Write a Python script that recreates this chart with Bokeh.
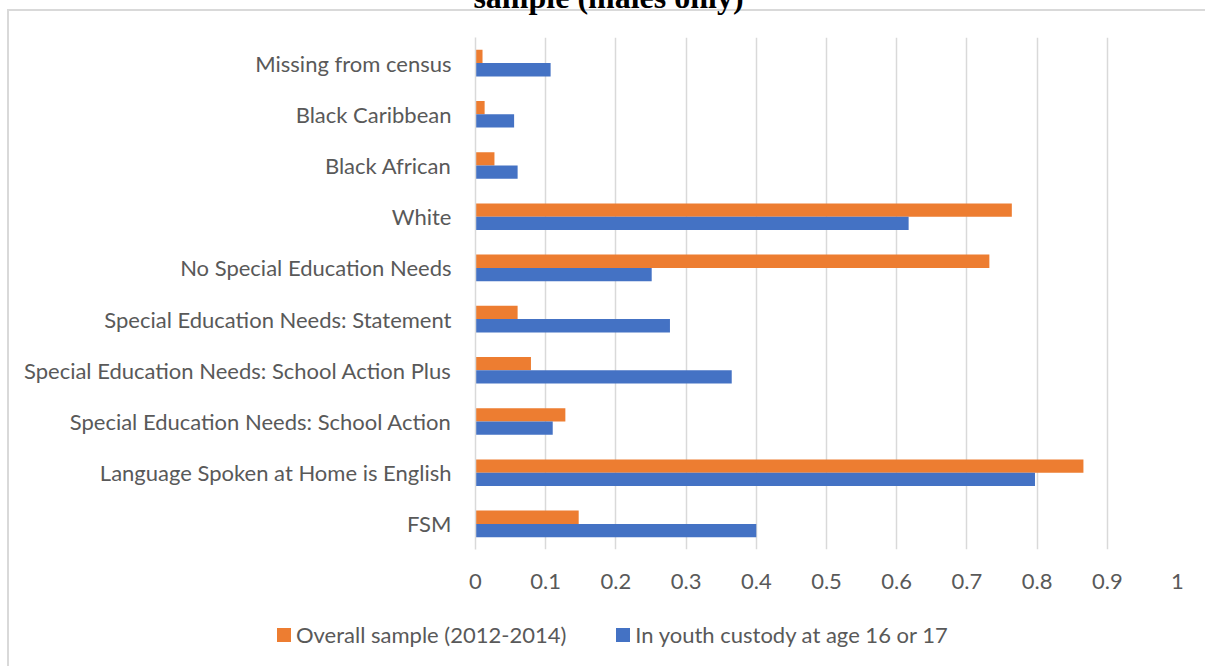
from bokeh.plotting import figure
from bokeh.layouts import column
from bokeh.models import (FactorRange, Range1d, Label, FixedTicker,
                          ColumnDataSource, Div)
from bokeh.transform import dodge
from bokeh.embed import file_html
from bokeh.resources import INLINE

# Categories listed bottom to top
categories = [
    "FSM",
    "Language Spoken at Home is English",
    "Special Education Needs: School Action",
    "Special Education Needs: School Action Plus",
    "Special Education Needs: Statement",
    "No Special Education Needs",
    "White",
    "Black African",
    "Black Caribbean",
    "Missing from census",
]
overall_sample = [0.147, 0.866, 0.128, 0.079, 0.060, 0.732, 0.764, 0.027, 0.013, 0.010]
youth_custody = [0.400, 0.797, 0.110, 0.365, 0.277, 0.251, 0.617, 0.060, 0.055, 0.107]

series_names = ["Overall sample (2012-2014)", "In youth custody at age 16 or 17"]
tick_values = [0, 0.1, 0.2, 0.3, 0.4, 0.5, 0.6, 0.7, 0.8, 0.9, 1]
tick_labels = ["0", "0.1", "0.2", "0.3", "0.4", "0.5", "0.6", "0.7", "0.8", "0.9", "1"]
title_text = "sample (males only)"

ORANGE = "#ED7D31"
BLUE = "#4472C4"
TEXT = "#595959"
GRID = "#D9D9D9"
FONT = "Lato"
FONT_SIZE = "22px"

W = 1205
H_MAIN, H_LEGEND = 600, 66
LEFT, RIGHT, TOP = 475, 28, 37
BOTTOM = H_MAIN - TOP - 512

source = ColumnDataSource(dict(cat=categories, overall=overall_sample, custody=youth_custody))

p = figure(width=W, height=H_MAIN, output_backend="svg", toolbar_location=None,
           y_range=FactorRange(*categories), x_range=Range1d(0, 1),
           min_border_left=LEFT, min_border_right=RIGHT,
           min_border_top=TOP, min_border_bottom=BOTTOM)
p.outline_line_color = None
p.background_fill_color = "white"
p.border_fill_alpha = 0

bar_kw = dict(left=0, height=0.26, source=source, line_color=None)
r_overall = p.hbar(y=dodge("cat", 0.13, range=p.y_range), right="overall",
                   fill_color=ORANGE, **bar_kw)
r_custody = p.hbar(y=dodge("cat", -0.13, range=p.y_range), right="custody",
                   fill_color=BLUE, **bar_kw)

# Value axis
p.xaxis.ticker = FixedTicker(ticks=tick_values)
p.xaxis.major_label_overrides = {v: s for v, s in zip(tick_values, tick_labels)}
p.xaxis.axis_line_color = None
p.xaxis.major_tick_line_color = None
p.xaxis.minor_tick_line_color = None
p.xaxis.major_label_standoff = 18
p.xaxis.major_label_text_font = FONT
p.xaxis.major_label_text_font_size = FONT_SIZE
p.xaxis.major_label_text_color = TEXT

p.xgrid.ticker = FixedTicker(ticks=tick_values)
p.xgrid.grid_line_color = GRID
p.xgrid.grid_line_width = 1.5
p.ygrid.grid_line_color = None

# Category axis
p.yaxis.axis_line_color = GRID
p.yaxis.axis_line_width = 1.5
p.yaxis.major_tick_line_color = None
p.yaxis.minor_tick_line_color = None
p.yaxis.major_label_standoff = 18
p.yaxis.major_label_text_font = FONT
p.yaxis.major_label_text_font_size = FONT_SIZE
p.yaxis.major_label_text_color = TEXT

# Title (second line, running off the top edge)
title = Label(x=133, y=41, x_units="screen", y_units="screen",
              text=title_text, text_font="Liberation Serif", text_font_style="bold",
              text_font_size="32px", text_color="black", text_align="center",
              text_baseline="alphabetic")
p.add_layout(title, "above")

# Legend strip under the chart: colour key + series name for each bar series
def legend_entry(name, color, gap):
    swatch = (f'<span style="display:inline-block;width:14px;height:14px;'
              f'background:{color};margin-right:5px;"></span>')
    return (f'<span style="display:inline-flex;align-items:center;'
            f'margin-right:{gap}px;">{swatch}<span>{name}</span></span>')

legend_html = (
    '<div style="display:flex;align-items:center;height:22px;line-height:22px;'
    'margin-left:272px;margin-top:19px;white-space:nowrap;">'
    + legend_entry(series_names[0], ORANGE, 50)
    + legend_entry(series_names[1], BLUE, 0)
    + '</div>'
)
legend_div = Div(text=legend_html, width=W, height=H_LEGEND,
                 styles={"font-family": FONT, "font-size": FONT_SIZE,
                         "color": TEXT})

layout = column(p, legend_div, spacing=0)
# Thin chart-area border along the top and left edges
layout.styles = {
    "background": (
        "linear-gradient(#D9D9D9, #D9D9D9) 7px 9px / 2px 700px no-repeat, "
        "linear-gradient(#D9D9D9, #D9D9D9) 7px 9px / 1300px 2px no-repeat, white"
    )
}

open("out.html", "w").write(file_html(layout, INLINE))
